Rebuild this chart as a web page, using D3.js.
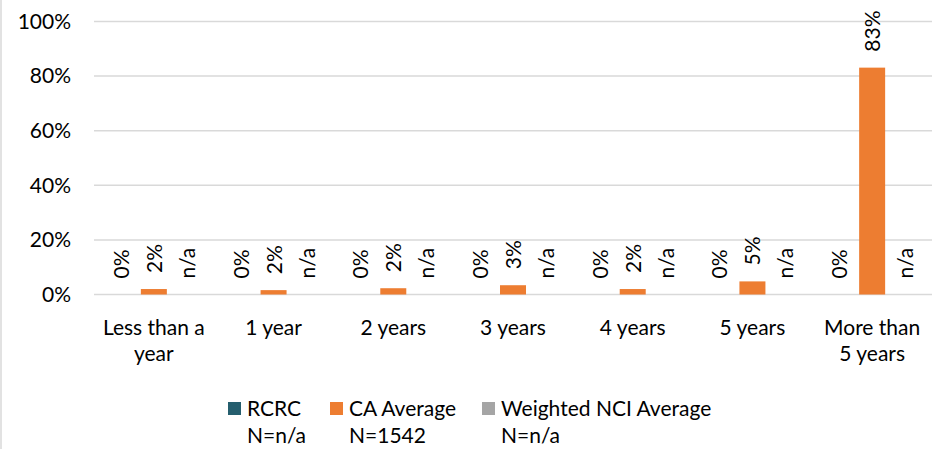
<!DOCTYPE html>
<html>
<head>
<meta charset="utf-8">
<script src="https://cdn.jsdelivr.net/npm/d3@7/dist/d3.min.js"></script>
<style>
  html, body { margin: 0; padding: 0; background: #fff; }
  svg { display: block; }
  text { font-family: Lato, "Open Sans", sans-serif; fill: #000; }
</style>
</head>
<body>
<svg id="chart" width="949" height="449"></svg>
<script>
const categories = [["Less than a", "year"], ["1 year"], ["2 years"], ["3 years"], ["4 years"], ["5 years"], ["More than", "5 years"]];
const seriesNames = ["RCRC", "CA Average", "Weighted NCI Average"];
const seriesN = ["N=n/a", "N=1542", "N=n/a"];
const seriesColors = ["#255E6E", "#ED7D31", "#A5A5A5"];
const rcrcValues = [0, 0, 0, 0, 0, 0, 0];
const caValues = [2.0, 1.6, 2.3, 3.4, 2.0, 4.8, 83.1];
const nciValues = [null, null, null, null, null, null, null];
const yTicks = [0, 20, 40, 60, 80, 100];

const series = [rcrcValues, caValues, nciValues];
const svg = d3.select("#chart");
const W = 949, H = 449;
const margin = { left: 94, right: 17, top: 21, bottom: 155 };
const FS = "21px";

// outer border (left edge)
svg.append("line").attr("x1", 1).attr("x2", 1).attr("y1", 0).attr("y2", H)
  .attr("stroke", "#D9D9D9").attr("stroke-width", 1.5);

const x = d3.scaleBand().domain(d3.range(categories.length))
  .range([margin.left, W - margin.right]).padding(0);
const y = d3.scaleLinear().domain([0, 100]).range([294.5, 21.5]);

const offsets = [-33, 0, 33];
const barW = 26;

// gridlines
const grid = svg.append("g");
grid.selectAll("line").data(yTicks).join("line")
  .attr("x1", margin.left).attr("x2", W - margin.right)
  .attr("y1", d => y(d)).attr("y2", d => y(d))
  .attr("stroke", "#D9D9D9").attr("stroke-width", 1.5);

// y axis labels
const yAxis = d3.axisLeft(y).tickValues(yTicks).tickFormat(d => d + "%").tickSize(0).tickPadding(23);
const ya = svg.append("g").attr("transform", `translate(${margin.left},0)`).call(yAxis);
ya.select(".domain").remove();
ya.selectAll("text").style("font-family", "Lato, sans-serif").style("font-size", FS).attr("fill", "#000");

// bars
series.forEach((vals, si) => {
  const g = svg.append("g");
  g.selectAll("rect").data(vals.map((v, i) => ({ v, i }))).join("rect")
    .filter(d => d.v !== null && d.v > 0)
    .attr("x", d => x(d.i) + x.bandwidth() / 2 + offsets[si] - barW / 2)
    .attr("width", barW)
    .attr("y", d => y(d.v))
    .attr("height", d => y(0) - y(d.v))
    .attr("fill", seriesColors[si]);
  // labels
  g.selectAll("text").data(vals.map((v, i) => ({ v, i }))).join("text")
    .attr("transform", d => {
      const cx = x(d.i) + x.bandwidth() / 2 + offsets[si] + 8;
      const top = d.v === null ? y(0) : y(d.v);
      return `translate(${cx},${top - 16}) rotate(-90)`;
    })
    .attr("text-anchor", "start")
    .style("font-size", FS)
    .text(d => d.v === null ? "n/a" : Math.round(d.v) + "%");
});

// category labels
const cat = svg.append("g");
categories.forEach((lines, i) => {
  const t = cat.append("text").attr("text-anchor", "middle").style("font-size", FS)
    .attr("x", x(i) + x.bandwidth() / 2).attr("y", 335);
  lines.forEach((ln, j) => {
    t.append("tspan").attr("x", x(i) + x.bandwidth() / 2).attr("dy", j === 0 ? 0 : 26).text(ln);
  });
});

// legend
const legX = [228, 330, 482];
seriesNames.forEach((name, i) => {
  svg.append("rect").attr("x", legX[i]).attr("y", 402).attr("width", 13).attr("height", 13)
    .attr("fill", seriesColors[i]);
  const t = svg.append("text").attr("x", legX[i] + 19).attr("y", 416).style("font-size", FS);
  t.append("tspan").attr("x", legX[i] + 19).text(name);
  t.append("tspan").attr("x", legX[i] + 19).attr("dy", 27).text(seriesN[i]);
});
</script>
</body>
</html>
